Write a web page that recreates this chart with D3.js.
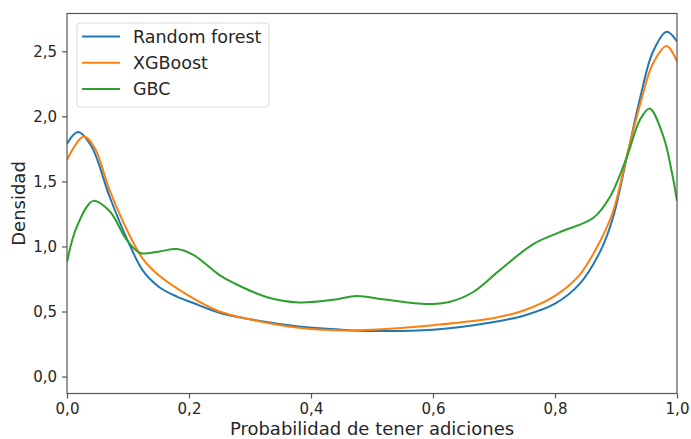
<!DOCTYPE html>
<html>
<head>
<meta charset="utf-8">
<script src="https://cdn.jsdelivr.net/npm/d3@7"></script>
<style>
  body { margin: 0; background: #fff; }
  text { font-family: "DejaVu Sans", sans-serif; fill: #262626; }
</style>
</head>
<body>
<div id="chart"></div>
<script>
// density curves
var rfX  = [0, 0.018, 0.04, 0.07, 0.1, 0.125, 0.152, 0.18, 0.207, 0.25, 0.3, 0.38, 0.45, 0.5, 0.6, 0.7, 0.75, 0.8, 0.84, 0.875, 0.895, 0.918, 0.94, 0.96, 0.983, 1.0];
var rfY  = [1.79, 1.88, 1.77, 1.38, 1.04, 0.81, 0.685, 0.615, 0.565, 0.49, 0.44, 0.385, 0.36, 0.35, 0.36, 0.42, 0.47, 0.56, 0.71, 0.97, 1.22, 1.69, 2.15, 2.49, 2.65, 2.575];

var xgbX = [0, 0.027, 0.045, 0.07, 0.1, 0.125, 0.15, 0.2, 0.25, 0.3, 0.38, 0.45, 0.5, 0.6, 0.7, 0.75, 0.8, 0.84, 0.875, 0.896, 0.918, 0.94, 0.96, 0.983, 1.0];
var xgbY = [1.665, 1.845, 1.76, 1.43, 1.11, 0.9, 0.78, 0.62, 0.5, 0.44, 0.375, 0.355, 0.36, 0.395, 0.45, 0.51, 0.62, 0.78, 1.05, 1.28, 1.7, 2.1, 2.4, 2.54, 2.42];

var gbcX = [0, 0.016, 0.043, 0.07, 0.098, 0.12, 0.15, 0.18, 0.207, 0.25, 0.273, 0.328, 0.38, 0.436, 0.475, 0.518, 0.59, 0.628, 0.666, 0.71, 0.765, 0.808, 0.863, 0.89, 0.918, 0.939, 0.955, 0.978, 0.992, 1.0];
var gbcY = [0.88, 1.15, 1.35, 1.27, 1.05, 0.95, 0.96, 0.98, 0.935, 0.78, 0.72, 0.61, 0.57, 0.59, 0.62, 0.594, 0.557, 0.575, 0.65, 0.82, 1.02, 1.11, 1.22, 1.38, 1.69, 1.97, 2.06, 1.84, 1.56, 1.35];

var seriesNames = ['Random forest', 'XGBoost', 'GBC'];
var colors = ['#1f77b4', '#ff7f0e', '#2ca02c'];
var xTicks = [0, 0.2, 0.4, 0.6, 0.8, 1.0];
var yTicks = [0, 0.5, 1.0, 1.5, 2.0, 2.5];

var width = 691,
    height = 439;
var margin = { top: 13.5, right: 14, bottom: 45.5, left: 67 };

var svg = d3.select('#chart')
      .append('svg')
      .attr('width', width)
      .attr('height', height);

var x = d3.scaleLinear().domain([0, 1]).range([margin.left, width - margin.right]);
var y = d3.scaleLinear().domain([-0.13, 2.79]).range([height - margin.bottom, margin.top]);

var fmt = function(d) { return d3.format('.1f')(d).replace('.', ','); };

var series = [
  { name: seriesNames[0], xs: rfX, ys: rfY },
  { name: seriesNames[1], xs: xgbX, ys: xgbY },
  { name: seriesNames[2], xs: gbcX, ys: gbcY }
];

var line = d3.line()
    .x(d => x(d[0]))
    .y(d => y(d[1]))
    .curve(d3.curveCatmullRom.alpha(0.5));

svg.append('clipPath').attr('id', 'clip')
  .append('rect')
  .attr('x', margin.left).attr('y', margin.top)
  .attr('width', width - margin.left - margin.right)
  .attr('height', height - margin.top - margin.bottom);

svg.append('g')
  .attr('clip-path', 'url(#clip)')
  .selectAll('path')
  .data(series)
  .enter()
  .append('path')
  .attr('d', s => line(d3.zip(s.xs, s.ys)))
  .attr('fill', 'none')
  .attr('stroke', (s, i) => colors[i])
  .attr('stroke-width', 2);

// axes
var xAxis = svg.append('g')
    .attr('transform', 'translate(0,' + (height - margin.bottom) + ')')
    .call(d3.axisBottom(x).tickValues(xTicks).tickFormat(fmt).tickSize(5).tickPadding(5));
var yAxis = svg.append('g')
    .attr('transform', 'translate(' + margin.left + ',0)')
    .call(d3.axisLeft(y).tickValues(yTicks).tickFormat(fmt).tickSize(5).tickPadding(5));

[xAxis, yAxis].forEach(function(a) {
  a.select('.domain').remove();
  a.selectAll('line').attr('stroke', '#555').attr('stroke-width', 1.2);
  a.selectAll('text').style('font-size', '15px').attr('fill', '#262626');
});

// frame
svg.append('rect')
  .attr('x', margin.left).attr('y', margin.top)
  .attr('width', width - margin.left - margin.right)
  .attr('height', height - margin.top - margin.bottom)
  .attr('fill', 'none')
  .attr('stroke', '#555')
  .attr('stroke-width', 1.2);

svg.append('text')
  .attr('x', (x(0) + x(1)) / 2)
  .attr('y', 435)
  .attr('text-anchor', 'middle')
  .style('font-size', '18px')
  .text('Probabilidad de tener adiciones');

svg.append('text')
  .attr('transform', 'translate(25,' + ((y(2.79) + y(-0.13)) / 2) + ') rotate(-90)')
  .attr('text-anchor', 'middle')
  .style('font-size', '18px')
  .text('Densidad');

// legend
var legend = svg.append('g').attr('transform', 'translate(77,23)');
legend.append('rect')
  .attr('width', 192).attr('height', 84)
  .attr('rx', 3)
  .attr('fill', '#fff')
  .attr('stroke', '#d9d9d9');
var items = legend.selectAll('g.item')
  .data(seriesNames)
  .enter()
  .append('g')
  .attr('transform', (d, i) => 'translate(0,' + (13.5 + i * 26.3) + ')');
items.append('line')
  .attr('x1', 5).attr('x2', 43)
  .attr('stroke', (d, i) => colors[i])
  .attr('stroke-width', 2);
items.append('text')
  .attr('x', 56)
  .attr('dy', '0.35em')
  .style('font-size', '17.5px')
  .text(d => d);
</script>
</body>
</html>
